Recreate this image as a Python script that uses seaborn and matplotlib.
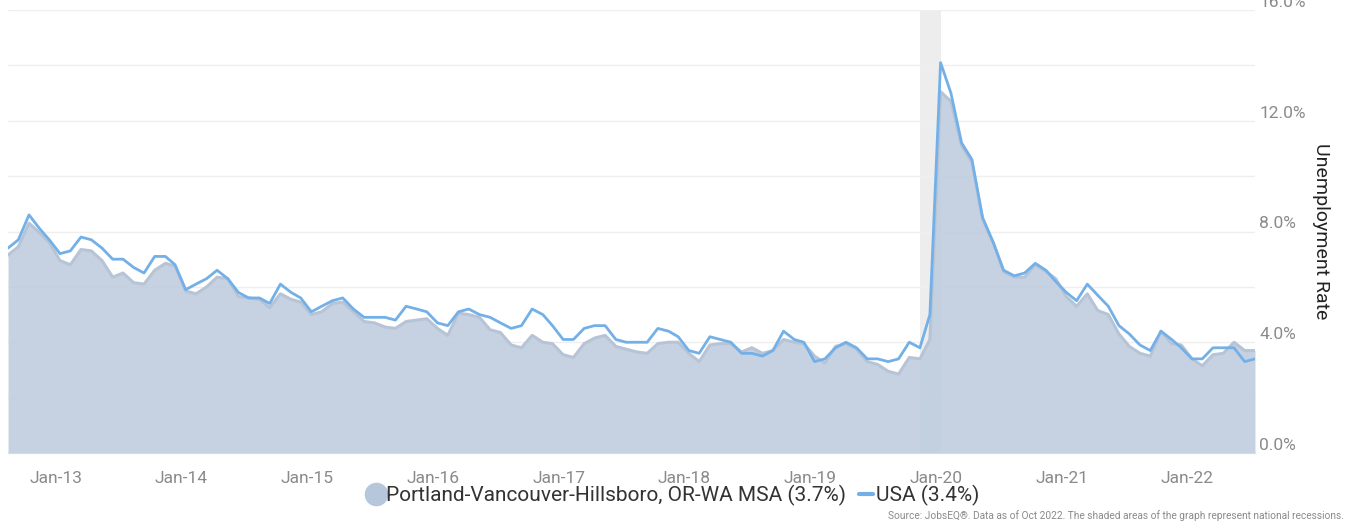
import pandas as pd
import matplotlib.pyplot as plt
import matplotlib.dates as mdates
from matplotlib.lines import Line2D
from matplotlib.ticker import MultipleLocator, FuncFormatter
import seaborn as sns

# monthly unemployment rate, Nov 2012 - Oct 2022 (not seasonally adjusted)
start_month = "2012-11-01"
portland = [
    7.15, 7.45,
    8.3, 7.95, 7.6, 6.95, 6.8, 7.35, 7.3, 6.95, 6.35, 6.5, 6.15, 6.1,
    6.6, 6.85, 6.75, 5.85, 5.75, 6.0, 6.35, 6.3, 5.65, 5.6, 5.55, 5.25,
    5.75, 5.55, 5.45, 5.0, 5.1, 5.4, 5.45, 5.1, 4.75, 4.7, 4.55, 4.5,
    4.75, 4.8, 4.85, 4.5, 4.25, 5.05, 5.0, 4.9, 4.45, 4.35, 3.9, 3.8,
    4.25, 4.0, 3.95, 3.55, 3.45, 3.95, 4.15, 4.25, 3.85, 3.75, 3.65, 3.6,
    3.95, 4.0, 4.0, 3.6, 3.3, 3.9, 3.95, 3.95, 3.65, 3.8, 3.6, 3.7,
    4.1, 4.0, 3.95, 3.5, 3.25, 3.85, 3.95, 3.75, 3.3, 3.2, 2.95, 2.85,
    3.45, 3.4, 4.1, 13.05, 12.7, 11.1, 10.5, 8.45, 7.6, 6.55, 6.35, 6.35,
    6.8, 6.55, 6.3, 5.65, 5.3, 5.75, 5.15, 5.0, 4.3, 3.85, 3.6, 3.5,
    4.4, 3.95, 3.9, 3.4, 3.15, 3.55, 3.6, 4.0, 3.7, 3.7,
]
usa = [
    7.4, 7.7,
    8.6, 8.1, 7.7, 7.2, 7.3, 7.8, 7.7, 7.4, 7.0, 7.0, 6.7, 6.5,
    7.1, 7.1, 6.8, 5.9, 6.1, 6.3, 6.6, 6.3, 5.8, 5.6, 5.6, 5.4,
    6.1, 5.8, 5.6, 5.1, 5.3, 5.5, 5.6, 5.2, 4.9, 4.9, 4.9, 4.8,
    5.3, 5.2, 5.1, 4.7, 4.6, 5.1, 5.2, 5.0, 4.9, 4.7, 4.5, 4.6,
    5.2, 5.0, 4.6, 4.1, 4.1, 4.5, 4.6, 4.6, 4.1, 4.0, 4.0, 4.0,
    4.5, 4.4, 4.2, 3.7, 3.6, 4.2, 4.1, 4.0, 3.6, 3.6, 3.5, 3.7,
    4.4, 4.1, 4.0, 3.3, 3.4, 3.8, 4.0, 3.8, 3.4, 3.4, 3.3, 3.4,
    4.0, 3.8, 5.0, 14.1, 13.0, 11.2, 10.6, 8.5, 7.6, 6.6, 6.4, 6.5,
    6.85, 6.6, 6.2, 5.8, 5.5, 6.1, 5.7, 5.3, 4.6, 4.3, 3.9, 3.7,
    4.4, 4.1, 3.8, 3.4, 3.4, 3.8, 3.8, 3.8, 3.3, 3.4,
]
recession = ("2020-02-01", "2020-04-01")
portland_label = "Portland-Vancouver-Hillsboro, OR-WA MSA (3.7%)"
usa_label = "USA (3.4%)"

df = pd.DataFrame({
    "month": pd.date_range(start_month, periods=len(usa), freq="MS"),
    "portland": portland,
    "usa": usa,
})

sns.set_style("white")
plt.rcParams["font.family"] = ["Roboto", "DejaVu Sans"]

fill_col = "#bccbdd"
edge_col = "#b6c4d6"
usa_col = "#74b0e8"
grey = "#8a8a8a"

fig = plt.figure(figsize=(13.48, 5.23), dpi=100)
ax = fig.add_axes([8 / 1348, 1 - 453 / 523, (1255 - 8) / 1348, 443 / 523])

ax.axvspan(pd.Timestamp(recession[0]), pd.Timestamp(recession[1]),
           color="#ededed", lw=0, zorder=0)
ax.fill_between(df["month"], df["portland"], 0, color=fill_col, alpha=0.85,
                lw=0, zorder=1)
sns.lineplot(data=df, x="month", y="portland", ax=ax, color=edge_col, lw=2.2,
             zorder=2)
sns.lineplot(data=df, x="month", y="usa", ax=ax, color=usa_col, lw=2,
             zorder=3)

ax.set_xlim(df["month"].iloc[0], df["month"].iloc[-1])
ax.set_ylim(0, 16)

# y axis on the right, grid every 2%, labels every 4%
ax.yaxis.tick_right()
ax.yaxis.set_major_locator(MultipleLocator(4))
ax.yaxis.set_minor_locator(MultipleLocator(2))
ax.yaxis.set_major_formatter(FuncFormatter(lambda v, p: f"{v:.1f}%"))
ax.grid(axis="y", which="both", color="#efefef", lw=1, zorder=0)
ax.set_axisbelow(True)
ax.tick_params(axis="y", which="both", length=0, pad=3, labelsize=12.5,
               labelcolor=grey)
for lab in ax.get_yticklabels():
    lab.set_va("bottom")

ax.xaxis.set_major_locator(mdates.YearLocator(month=1))
ax.xaxis.set_major_formatter(mdates.DateFormatter("%b-%y"))
ax.tick_params(axis="x", length=8, width=1, color="#d5dbe6", pad=5,
               labelsize=12.5, labelcolor=grey)
for lab in ax.get_xticklabels():
    lab.set_ha("left")

for side in ["top", "left", "right"]:
    ax.spines[side].set_visible(False)
ax.spines["bottom"].set_color("#d5dbe6")
ax.set_xlabel("")
ax.set_ylabel("")

fig.text(1321 / 1348, 1 - 231 / 523, "Unemployment Rate", rotation=270,
         ha="center", va="center", fontsize=14, color="#222222")

handles = [
    Line2D([], [], marker="o", linestyle="", markersize=16,
           markerfacecolor="#b6c7dc", markeredgecolor="#b6c7dc"),
    Line2D([], [], color=usa_col, lw=3),
]
fig.legend(handles, [portland_label, usa_label], loc="center",
           bbox_to_anchor=(0.5, 1 - 495 / 523), ncol=2, frameon=False,
           fontsize=15, handlelength=0.7, handletextpad=0.15,
           columnspacing=0.6, labelcolor="#333333")

fig.text(0.997, 1 - 516 / 523,
         "Source: JobsEQ®. Data as of Oct 2022. The shaded areas of the graph "
         "represent national recessions.",
         ha="right", va="center", fontsize=7.3, color=grey)

fig.savefig("out.png", dpi=100)
